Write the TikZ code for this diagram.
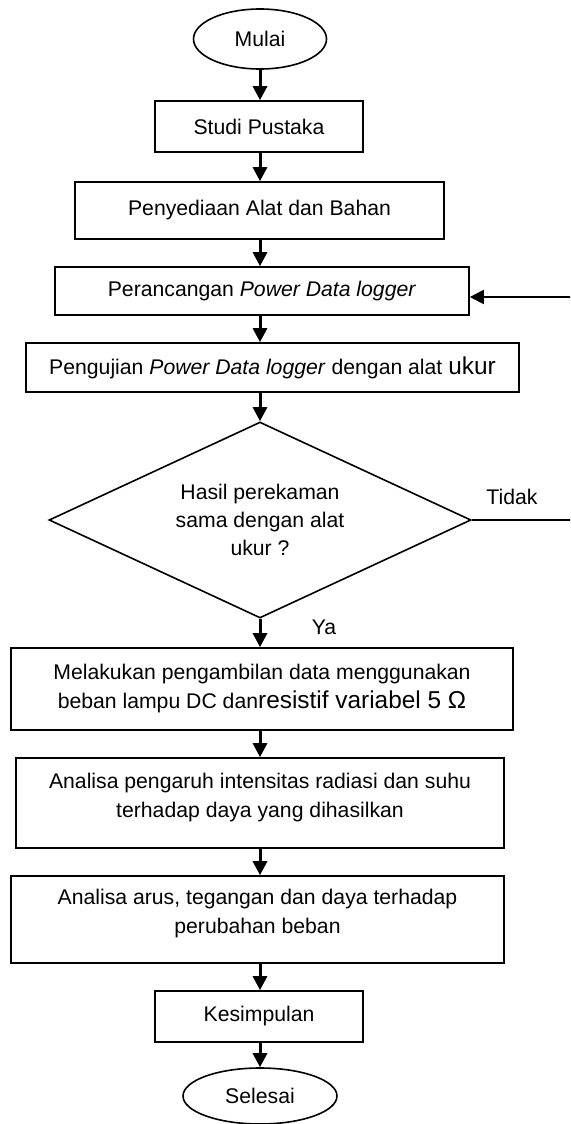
\documentclass[tikz,border=0pt]{standalone}
\usepackage{fontspec}
\setmainfont{Liberation Sans}
\usetikzlibrary{arrows.meta,shapes.geometric}
\newcommand\besar[1]{{\fontsize{12.2}{14}\selectfont #1}}

\begin{document}
\begin{tikzpicture}[x=0.5pt,y=-0.5pt,>={Triangle[width=7pt,length=7pt]},
  box/.style={draw,line width=0.8pt,rectangle,inner sep=0pt,align=center,font=\fontsize{10.6}{14.5}\selectfont},
  term/.style={draw,line width=0.8pt,ellipse,inner sep=0pt,font=\fontsize{10.6}{14.5}\selectfont},
  arr/.style={->,line width=1.5pt},
  lbl/.style={font=\fontsize{10.6}{13.8}\selectfont,align=center}]
\clip (0,0) rectangle (570,1124);
\node[term,minimum width=66.5pt,minimum height=30pt] (mulai) at (260,39) {Mulai};
\node[box,minimum width=104pt,minimum height=25.5pt] (studi) at (259,126.5) {Studi Pustaka};
\node[box,minimum width=184.5pt,minimum height=28.5pt] (sedia) at (259.5,210.5) {Penyediaan Alat dan Bahan};
\node[box,minimum width=207pt,minimum height=24pt] (rancang) at (262,291) {Perancangan \textit{Power Data logger}};
\node[box,minimum width=246.5pt,minimum height=24.5pt] (uji) at (272.5,367.5) {Pengujian \textit{Power Data logger} dengan alat \besar{ukur}};
\node[draw,line width=0.8pt,diamond,inner sep=0pt,minimum width=211pt,minimum height=98pt] (dec) at (260,520) {};
\node[lbl] (dectxt) at (dec) {Hasil perekaman\\sama dengan alat\\ukur ?};
\node[box,minimum width=251pt,minimum height=41pt] (ambil) at (262,689) {Melakukan pengambilan data menggunakan\\beban lampu DC dan\besar{resistif variabel 5 Ω}};
\node[box,minimum width=244pt,minimum height=45pt,text depth=8pt] (analisa1) at (260,803) {Analisa pengaruh intensitas radiasi dan suhu\\terhadap daya yang dihasilkan};
\node[box,minimum width=246.5pt,minimum height=43.5pt,text depth=8pt] (analisa2) at (257.5,919.5) {Analisa arus, tegangan dan daya terhadap\\perubahan beban};
\node[box,minimum width=104pt,minimum height=25.5pt] (simpul) at (259,1016.5) {Kesimpulan};
\node[term,minimum width=77pt,minimum height=28pt] (selesai) at (260,1096) {Selesai};
\node[lbl] (tidak) at (512,497) {Tidak};
\node[lbl] (ya) at (324,627) {Ya};
\coordinate (balik) at (582,0);

% alur utama
\draw[arr] (mulai) -- (mulai |- studi.north);
\draw[arr] (studi.south -| mulai) -- (mulai |- sedia.north);
\draw[arr] (sedia.south -| mulai) -- (mulai |- rancang.north);
\draw[arr] (rancang.south -| mulai) -- (mulai |- uji.north);
\draw[arr] (uji.south -| mulai) -- (dec.north);
\draw[arr] (dec.south) -- (dec.south |- ambil.north);
\draw[arr] (ambil.south -| mulai) -- (mulai |- analisa1.north);
\draw[arr] (analisa1.south -| mulai) -- (mulai |- analisa2.north);
\draw[arr] (analisa2.south -| mulai) -- (mulai |- simpul.north);
\draw[arr] (simpul.south -| mulai) -- (selesai);
% kembali ke perancangan
\draw[->,line width=1pt] (dec.east) -- (dec.east -| balik) |- ([yshift=-3pt]rancang.east);
\end{tikzpicture}
\end{document}
